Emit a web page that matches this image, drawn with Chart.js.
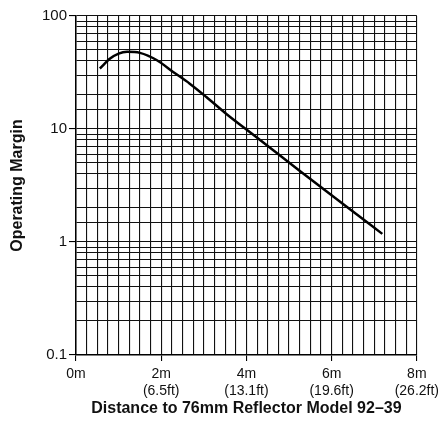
<!DOCTYPE html>
<html>
<head>
<meta charset="utf-8">
<script src="https://cdn.jsdelivr.net/npm/chart.js@4"></script>
<style>
  html, body { margin: 0; padding: 0; background: #fff; }
  #wrap { width: 443px; height: 438px; }
</style>
</head>
<body>
<div id="wrap"><canvas id="chart" width="443" height="438"></canvas></div>
<script>
// distance (m) and operating margin
const distance = [0.56, 0.8, 1.0, 1.2, 1.5, 1.9, 2.28, 2.67, 3.06, 3.53, 4.23, 5.24, 6.33, 7.19];
const margin   = [34.3, 42, 46.5, 48.2, 47.2, 40.6, 32, 25.2, 19.2, 13.6, 8.5, 4.3, 2.08, 1.18];

const xLabels = {
    0: ['0m'],
    2: ['2m', '(6.5ft)'],
    4: ['4m', '(13.1ft)'],
    6: ['6m', '(19.6ft)'],
    8: ['8m', '(26.2ft)']
};
const yLabels = [0.1, 1, 10, 100];

const font = '"Liberation Sans", Arial, sans-serif';

const ctx = document.querySelector('#chart').getContext('2d');
new Chart(ctx, {
    type: 'line',
    data: {
        datasets: [{
            data: distance.map((d, i) => ({ x: d, y: margin[i] })),
            borderColor: '#000',
            borderWidth: 2.5,
            pointRadius: 0,
            cubicInterpolationMode: 'monotone',
            fill: false
        }]
    },
    options: {
        responsive: false,
        animation: false,
        layout: { padding: { left: 0, right: 25, top: 16, bottom: 20 } },
        plugins: { legend: { display: false }, tooltip: { enabled: false } },
        scales: {
            x: {
                type: 'linear',
                min: 0,
                max: 8,
                afterFit: (s) => { s.height = 63 },
                border: { color: '#000', width: 1.5 },
                grid: {
                    color: '#111',
                    lineWidth: 1.1,
                    tickLength: 6,
                    tickColor: (c) => (c.tick && c.tick.value % 2 === 0) ? '#000' : 'rgba(0,0,0,0)'
                },
                ticks: {
                    stepSize: 0.25,
                    autoSkip: false,
                    maxRotation: 0,
                    padding: 4,
                    color: '#111',
                    font: { family: font, size: 14, lineHeight: 1.25 },
                    callback: (v) => xLabels[v] || ''
                },
                title: {
                    display: true,
                    text: 'Distance to 76mm Reflector Model 92–39',
                    color: '#111',
                    font: { family: font, size: 16, weight: 'bold' },
                    padding: { top: 6, bottom: 0 }
                }
            },
            y: {
                type: 'logarithmic',
                min: 0.1,
                max: 100,
                afterFit: (s) => { s.width = 76 },
                border: { color: '#000', width: 1.5 },
                grid: {
                    color: '#111',
                    lineWidth: 1.1,
                    tickLength: 7,
                    tickColor: (c) => (c.tick && yLabels.includes(c.tick.value)) ? '#000' : 'rgba(0,0,0,0)'
                },
                ticks: {
                    autoSkip: false,
                    padding: 2,
                    color: '#111',
                    font: { family: font, size: 15 },
                    callback: (v) => yLabels.includes(v) ? String(v) : ''
                },
                title: {
                    display: true,
                    text: 'Operating Margin',
                    color: '#111',
                    font: { family: font, size: 16, weight: 'bold' },
                    padding: { top: 8, bottom: 4 }
                }
            }
        }
    }
});
</script>
</body>
</html>
